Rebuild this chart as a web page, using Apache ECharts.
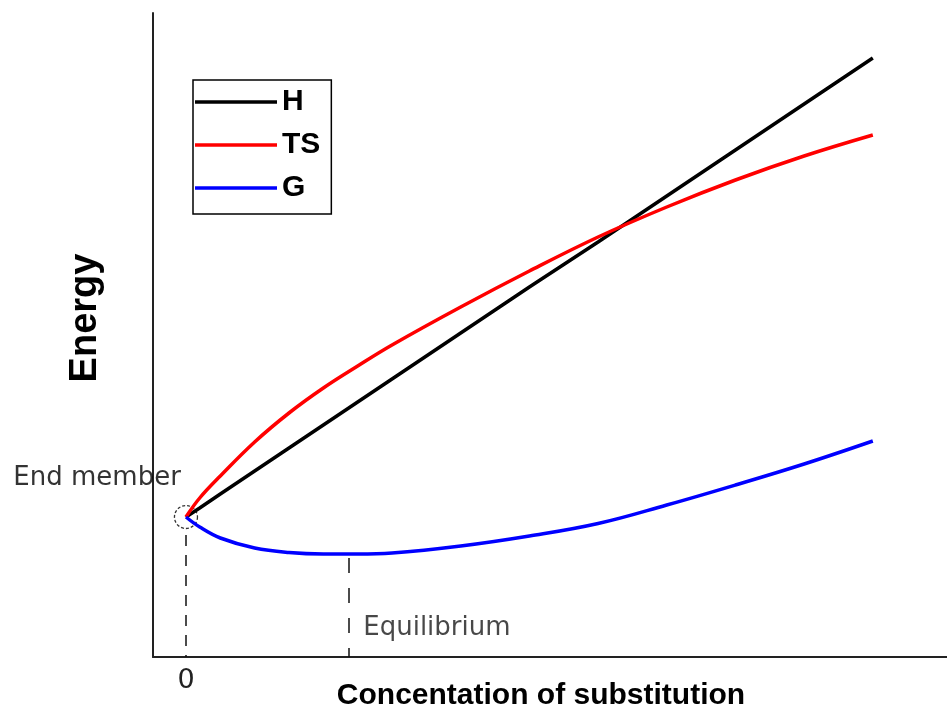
<!DOCTYPE html>
<html>
<head>
<meta charset="utf-8">
<script src="https://cdn.jsdelivr.net/npm/echarts@6/dist/echarts.min.js"></script>
<style>
html,body{margin:0;padding:0;background:#fff;}
#chart{width:947px;height:712px;}
</style>
</head>
<body>
<div id="chart"></div>
<script>
// Concentration of substitution (x) and energies
const concentration = [0, 0.02, 0.05, 0.1, 0.15, 0.2, 0.25, 0.3, 0.4, 0.5, 0.6, 0.7, 0.8, 0.9, 1.0];
const enthalpyH     = [0, 0.09, 0.23, 0.46, 0.69, 0.92, 1.15, 1.38, 1.84, 2.30, 2.75, 3.21, 3.67, 4.13, 4.59];
const entropyTS     = [0, 0.19, 0.41, 0.75, 1.04, 1.29, 1.51, 1.72, 2.10, 2.46, 2.80, 3.10, 3.37, 3.61, 3.82];
const gibbsG        = [0, -0.10, -0.21, -0.31, -0.355, -0.37, -0.37, -0.36, -0.29, -0.19, -0.065, 0.12, 0.32, 0.53, 0.76];
const seriesNames   = ['H', 'TS', 'G'];
const endMemberPoint = [0, 0];
const equilibriumX = 0.237;
const xTickLabels = [0];

const pair = (xs, ys) => xs.map((x, i) => [x, ys[i]]);
const YMIN = -1.4, YMAX = 5.04;

const chart = echarts.init(document.getElementById('chart'));
const lineBase = { type: 'line', smooth: 0.4, symbol: 'none', showSymbol: false, z: 3 };

chart.setOption({
  animation: false,
  backgroundColor: '#ffffff',
  grid: { left: 153, right: 0, top: 13, bottom: 55, containLabel: false, outerBoundsMode: 'none' },
  legend: {
    data: seriesNames,
    orient: 'vertical',
    left: 193, top: 80,
    backgroundColor: '#fff',
    borderColor: '#000', borderWidth: 1.5,
    padding: [7, 11, 11, 2],
    icon: 'rect',
    itemWidth: 82, itemHeight: 3.5, itemGap: 13,
    textStyle: { fontFamily: 'Liberation Sans, Arial', fontWeight: 'bold', fontSize: 30, color: '#000', lineHeight: 30 }
  },
  xAxis: {
    type: 'value', min: -0.048, max: 1.108,
    name: 'Concentation of substitution',
    nameLocation: 'middle', nameGap: 24, nameMoveOverlap: false,
    nameTextStyle: { fontFamily: 'Liberation Sans, Arial', fontWeight: 'bold', fontSize: 30, color: '#000', padding: [0, 18, 0, 0] },
    axisLine: { show: true, onZero: false, lineStyle: { color: '#222', width: 2 } },
    axisTick: { show: false },
    splitLine: { show: false },
    axisLabel: { show: true, customValues: xTickLabels, margin: 10, fontFamily: 'DejaVu Sans', fontSize: 27, color: '#222',
      formatter: v => String(v) }
  },
  yAxis: {
    type: 'value', min: YMIN, max: YMAX,
    name: 'Energy',
    nameLocation: 'middle', nameGap: 48,
    nameTextStyle: { fontFamily: 'Liberation Sans, Arial', fontWeight: 'bold', fontSize: 38, color: '#000', padding: [0, 0, 0, 34] },
    axisLine: { show: true, onZero: false, lineStyle: { color: '#222', width: 2 } },
    axisTick: { show: false },
    axisLabel: { show: false },
    splitLine: { show: false }
  },
  series: [
    Object.assign({}, lineBase, { name: seriesNames[0], data: pair(concentration, enthalpyH), smooth: false,
      lineStyle: { color: '#000000', width: 3.5 }, itemStyle: { color: '#000000' } }),
    Object.assign({}, lineBase, { name: seriesNames[1], data: pair(concentration, entropyTS),
      lineStyle: { color: '#ff0000', width: 3.5 }, itemStyle: { color: '#ff0000' } }),
    Object.assign({}, lineBase, { name: seriesNames[2], data: pair(concentration, gibbsG),
      lineStyle: { color: '#0000ff', width: 3.5 }, itemStyle: { color: '#0000ff' },
      markLine: {
        silent: true, symbol: 'none', animation: false,
        label: { show: false },
        data: [
          [ { coord: [equilibriumX, -0.41], lineStyle: { type: [15, 15], color: '#111', width: 1.5 } },
            { coord: [equilibriumX, YMIN] } ],
          [ { coord: [endMemberPoint[0], -0.18], lineStyle: { type: [11, 9], color: '#111', width: 1.5 } },
            { coord: [endMemberPoint[0], YMIN] } ]
        ]
      }
    }),
    {
      type: 'scatter', name: 'End member', data: [endMemberPoint], z: 2,
      symbol: 'circle', symbolSize: 23,
      itemStyle: { color: 'rgba(0,0,0,0)', borderColor: '#000', borderWidth: 1.3, borderType: [3, 2] },
      label: { show: true, formatter: 'End member', position: 'left', distance: 0, offset: [7, -39],
        fontFamily: 'DejaVu Sans', fontSize: 26, color: '#000' },
      silent: true
    },
    {
      type: 'scatter', name: 'Equilibrium', data: [[equilibriumX, -1.11]], z: 2,
      symbol: 'circle', symbolSize: 1,
      itemStyle: { color: 'rgba(0,0,0,0)' },
      label: { show: true, formatter: 'Equilibrium', position: 'right', distance: 0, offset: [14, 0],
        fontFamily: 'DejaVu Sans', fontSize: 26, color: '#1a1a1a' },
      silent: true
    }
  ]
});
</script>
</body>
</html>
